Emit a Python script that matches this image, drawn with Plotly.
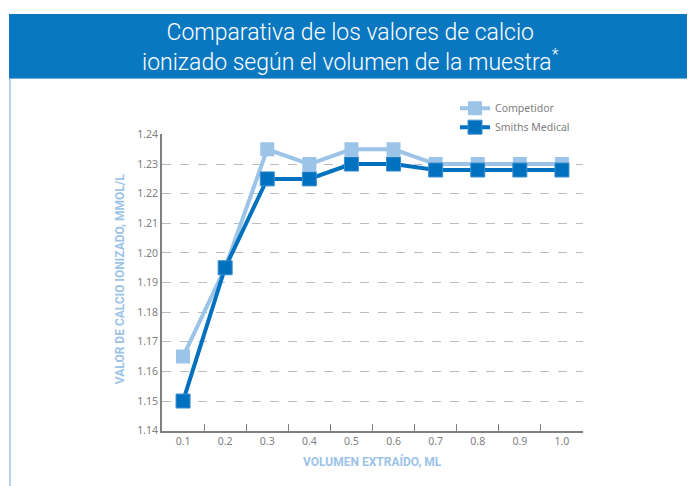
import plotly.graph_objects as go

W, H = 695, 486
OFF = 8  # page offset of the figure in the browser

volumes = ["0.1", "0.2", "0.3", "0.4", "0.5", "0.6", "0.7", "0.8", "0.9", "1.0"]
competidor = [1.165, 1.195, 1.235, 1.230, 1.235, 1.235, 1.230, 1.230, 1.230, 1.230]
smiths = [1.150, 1.195, 1.225, 1.225, 1.230, 1.230, 1.228, 1.228, 1.228, 1.228]
y_ticks = [1.14, 1.15, 1.16, 1.17, 1.18, 1.19, 1.20, 1.21, 1.22, 1.23, 1.24]
y_ticklabels = ["1.14", "1.15", "1.16", "1.17", "1.18", "1.19", "1.20", "1.21", "1.22", "1.23", "1.24"]

LIGHT = "#9cc3e8"
DARK = "#0071bf"
HEADER = "#0a78c1"
GRAY = "#808080"

def px(x):
    return (x - OFF) / W

def py(y):
    return 1 - (y - OFF) / H

fig = go.Figure()
fig.add_trace(go.Scatter(
    x=volumes, y=competidor, name="Competidor", mode="lines+markers",
    line=dict(color=LIGHT, width=4),
    marker=dict(symbol="square", size=14, color=LIGHT, line=dict(color=LIGHT, width=0)),
))
fig.add_trace(go.Scatter(
    x=volumes, y=smiths, name="Smiths Medical", mode="lines+markers",
    line=dict(color=DARK, width=4),
    marker=dict(symbol="square", size=14, color=DARK, line=dict(color="#3d8fd0", width=1)),
))

shapes = [
    dict(type="rect", xref="paper", yref="paper", x0=px(10), x1=px(688), y0=py(520), y1=py(73),
         line=dict(color=LIGHT, width=1.5), fillcolor="white", layer="below"),
    dict(type="rect", xref="paper", yref="paper", x0=px(9), x1=1.0, y0=py(73), y1=py(7),
         line=dict(width=0), fillcolor=HEADER, layer="below"),
]

annotations = [
    dict(text="Comparativa de los valores de calcio<br>ionizado según el volumen de la muestra<sup>*</sup>",
         xref="paper", yref="paper", x=px(350), y=py(41), xanchor="center", yanchor="middle",
         showarrow=False, font=dict(family="Roboto", size=23, color="white", weight=300), align="center"),
    dict(text="<b>VALOR DE CALCIO IONIZADO, MMOL/L</b>", xref="paper", yref="paper",
         x=px(120), y=py(280), textangle=-90, showarrow=False, xanchor="center", yanchor="middle",
         font=dict(family="Roboto", size=12, color=LIGHT)),
    dict(text="<b>VOLUMEN EXTRAÍDO, ML</b>", xref="paper", yref="paper",
         x=px(372), y=py(468), showarrow=False, xanchor="center", yanchor="middle",
         font=dict(family="Roboto", size=12, color=LIGHT)),
]

fig.update_layout(
    width=W, height=H,
    margin=dict(l=0, r=0, t=0, b=0),
    paper_bgcolor="white", plot_bgcolor="rgba(0,0,0,0)",
    shapes=shapes, annotations=annotations,
    font=dict(family="Noto Sans", color=GRAY, size=10),
    showlegend=True,
    legend=dict(x=px(455), y=py(89), xanchor="left", yanchor="top",
                bgcolor="rgba(0,0,0,0)", font=dict(size=10.5, color=GRAY),
                tracegroupgap=0, itemwidth=30),
    xaxis=dict(domain=[px(162), px(583)], type="category", tickson="boundaries",
               ticks="inside", ticklen=7, tickcolor=GRAY, tickwidth=1.2,
               showline=True, linecolor=GRAY, linewidth=1.5, showgrid=False,
               tickfont=dict(size=10.5, color=GRAY), range=[-0.5, 9.5], fixedrange=True),
    yaxis=dict(domain=[py(436), py(131)], range=[1.14, 1.24],
               tickvals=y_ticks, ticktext=y_ticklabels,
               showline=True, linecolor=GRAY, linewidth=1.5,
               showgrid=True, gridcolor="#bdbdbd", gridwidth=1, griddash="dash",
               zeroline=False, ticks="", tickfont=dict(size=10.5, color=GRAY)),
)

fig.write_html("out.html")
